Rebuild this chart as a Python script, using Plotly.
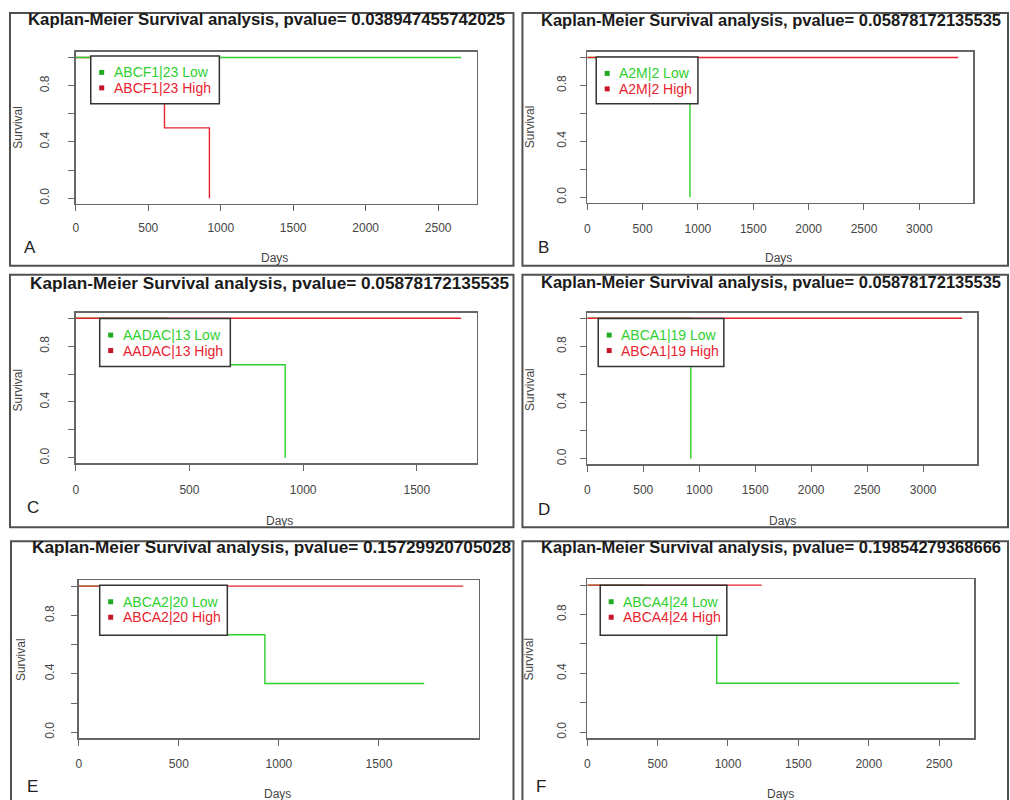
import plotly.graph_objects as go

W, H = 1010, 800

# ---------------- data ----------------
genes = ["ABCF1|23", "A2M|2", "AADAC|13", "ABCA1|19", "ABCA2|20", "ABCA4|24"]
pvalues = ["0.038947455742025", "0.05878172135535", "0.05878172135535",
           "0.05878172135535", "0.15729920705028", "0.19854279368666"]
panel_letters = ["A", "B", "C", "D", "E", "F"]

low_days_A = [0, 2659]
low_surv_A = [1.0, 1.0]
high_days_A = [0, 612, 922]
high_surv_A = [1.0, 0.5, 0.0]

low_days_B = [0, 928]
low_surv_B = [1.0, 0.0]
high_days_B = [0, 3352]
high_surv_B = [1.0, 1.0]

low_days_C = [0, 400, 921]
low_surv_C = [1.0, 0.667, 0.0]
high_days_C = [0, 1695]
high_surv_C = [1.0, 1.0]

low_days_D = [0, 925]
low_surv_D = [1.0, 0.0]
high_days_D = [0, 3348]
high_surv_D = [1.0, 1.0]

low_days_E = [0, 400, 930, 1726]
low_surv_E = [1.0, 0.667, 0.333, 0.333]
high_days_E = [0, 1921]
high_surv_E = [1.0, 1.0]

low_days_F = [0, 400, 920, 2643]
low_surv_F = [1.0, 0.667, 0.333, 0.333]
high_days_F = [0, 1239]
high_surv_F = [1.0, 1.0]

y_tick_vals = [0.0, 0.2, 0.4, 0.6, 0.8, 1.0]
y_tick_text = ["0.0", "", "0.4", "", "0.8", ""]

low_days = [low_days_A, low_days_B, low_days_C, low_days_D, low_days_E, low_days_F]
low_surv = [low_surv_A, low_surv_B, low_surv_C, low_surv_D, low_surv_E, low_surv_F]
high_days = [high_days_A, high_days_B, high_days_C, high_days_D, high_days_E, high_days_F]
high_surv = [high_surv_A, high_surv_B, high_surv_C, high_surv_D, high_surv_E, high_surv_F]
low_on_top = [True, False, False, False, False, False]

# ---------------- layout geometry (window pixels) ----------------
GREEN = "#2fcf2f"
RED = "#e8232f"
GREEN_PT = "#22aa22"
RED_PT = "#c8142a"
FONT = "Liberation Sans, Arial, sans-serif"
AXC = "#666666"

geo = [
    dict(box=(73, 475, 52, 204), frame=(7, 512, 13, 266), title=(23, 20, 16.8), letter=(27, 248),
         days=(272, 258), surv=(15, 127), leg=(88, 56, 217, 104), ystand=14, xstand=6),
    dict(box=(586, 973, 52, 203), frame=(521, 1008, 13, 266), title=(538, 20, 16.5), letter=(542, 248),
         days=(778, 258), surv=(528, 127), leg=(595, 57, 697, 104), ystand=9, xstand=8),
    dict(box=(73, 475, 313, 464), frame=(7, 512, 275, 528), title=(25, 283, 17.2), letter=(30, 508),
         days=(277, 522), surv=(15, 390), leg=(97, 319, 228, 367), ystand=14, xstand=9),
    dict(box=(586, 977, 313, 465), frame=(521, 1008, 275, 528), title=(538, 282, 16.5), letter=(543, 510),
         days=(782, 522), surv=(528, 390), leg=(597, 319, 723, 367), ystand=9, xstand=8),
    dict(box=(76, 477, 581, 739), frame=(8, 512, 542, 810), title=(27, 548, 17.2), letter=(30, 787),
         days=(275, 795), surv=(18, 660), leg=(97, 586, 225, 636), ystand=12, xstand=8),
    dict(box=(586, 974, 580, 739), frame=(521, 1008, 542, 810), title=(538, 548, 16.5), letter=(540, 787),
         days=(780, 795), surv=(528, 660), leg=(599, 586, 726, 636), ystand=9, xstand=8),
]


def fx(p):
    return p / W


def fy(p):
    return 1 - p / H


fig = go.Figure()
layout = dict(width=W, height=H, margin=dict(l=0, r=0, t=0, b=0),
              paper_bgcolor="white", plot_bgcolor="white", showlegend=False)
shapes, annotations = [], []

for i in range(6):
    g = geo[i]
    n = "" if i == 0 else str(i + 1)
    xa, ya = "x" + n, "y" + n

    low = go.Scatter(x=low_days[i], y=low_surv[i], mode="lines", line=dict(color=GREEN, width=1.4, shape="hv"),
                     xaxis=xa, yaxis=ya, name=genes[i] + " Low", hoverinfo="skip")
    high = go.Scatter(x=high_days[i], y=high_surv[i], mode="lines", line=dict(color=RED, width=1.4, shape="hv"),
                      xaxis=xa, yaxis=ya, name=genes[i] + " High", hoverinfo="skip")
    if low_on_top[i]:
        fig.add_trace(high)
        fig.add_trace(low)
    else:
        fig.add_trace(low)
        fig.add_trace(high)

    tmax = max(max(low_days[i]), max(high_days[i]))
    bx0, bx1, by0, by1 = g["box"]
    common = dict(showgrid=False, zeroline=False, showline=True, mirror=True, linecolor=AXC, linewidth=1.6,
                  ticks="outside", ticklen=6, tickcolor=AXC, tickwidth=1,
                  tickfont=dict(family=FONT, size=12, color="#444"))
    layout["xaxis" + n] = dict(domain=[fx(bx0), fx(bx1)], anchor=ya, range=[0, tmax * 1.04],
                               tickmode="linear", tick0=0, dtick=500, ticklabelstandoff=g["xstand"], **common)
    layout["yaxis" + n] = dict(domain=[fy(by1), fy(by0)], anchor=xa, range=[-0.04, 1.04],
                               tickmode="array", tickvals=y_tick_vals, ticktext=y_tick_text,
                               tickangle=-90, ticklabelstandoff=g["ystand"], **common)

    # outer panel frame
    f0, f1, f2, f3 = g["frame"]
    shapes.append(dict(type="rect", xref="paper", yref="paper", x0=fx(f0), x1=fx(f1), y0=fy(f3), y1=fy(f2),
                       line=dict(color="#505050", width=2), fillcolor="rgba(0,0,0,0)"))

    # legend box (R style)
    l0, lt, l1, lb = g["leg"]
    shapes.append(dict(type="rect", xref="paper", yref="paper", layer="above",
                       x0=fx(l0), x1=fx(l1), y0=fy(lb), y1=fy(lt),
                       line=dict(color="#333", width=1.5), fillcolor="white"))
    for k, (lab, tcol, pcol) in enumerate([("Low", GREEN, GREEN_PT), ("High", RED, RED_PT)]):
        ry = lt + 16.5 + 15.5 * k
        sx = l0 + 11
        shapes.append(dict(type="rect", xref="paper", yref="paper", layer="above",
                           x0=fx(sx - 2.5), x1=fx(sx + 2.5), y0=fy(ry + 2.5), y1=fy(ry - 2.5),
                           line=dict(width=0), fillcolor=pcol))
        annotations.append(dict(xref="paper", yref="paper", x=fx(l0 + 21), y=fy(ry), xanchor="left",
                                yanchor="middle", text=f"{genes[i]} {lab}", showarrow=False,
                                font=dict(family=FONT, size=14, color=tcol)))

    tx, ty, ts = g["title"]
    annotations.append(dict(xref="paper", yref="paper", x=fx(tx), y=fy(ty), xanchor="left", yanchor="middle",
                            text=f"Kaplan-Meier Survival analysis, pvalue= {pvalues[i]}", showarrow=False,
                            font=dict(family=FONT, size=ts, color="#1a1a1a", weight="bold")))
    lx2, ly2 = g["letter"]
    annotations.append(dict(xref="paper", yref="paper", x=fx(lx2), y=fy(ly2), xanchor="center", yanchor="middle",
                            text=panel_letters[i], showarrow=False, font=dict(family=FONT, size=17, color="#222")))
    dx, dy = g["days"]
    annotations.append(dict(xref="paper", yref="paper", x=fx(dx), y=fy(dy), xanchor="center", yanchor="middle",
                            text="Days", showarrow=False, font=dict(family=FONT, size=12, color="#444")))
    sx_, sy_ = g["surv"]
    annotations.append(dict(xref="paper", yref="paper", x=fx(sx_), y=fy(sy_), xanchor="center", yanchor="middle",
                            text="Survival", textangle=-90, showarrow=False,
                            font=dict(family=FONT, size=12, color="#444")))

layout["shapes"] = shapes
layout["annotations"] = annotations
fig.update_layout(**layout)
fig.write_html("out.html", config={"displayModeBar": False, "staticPlot": True},
               post_script="document.body.style.margin='0px';document.body.style.overflow='hidden';")
